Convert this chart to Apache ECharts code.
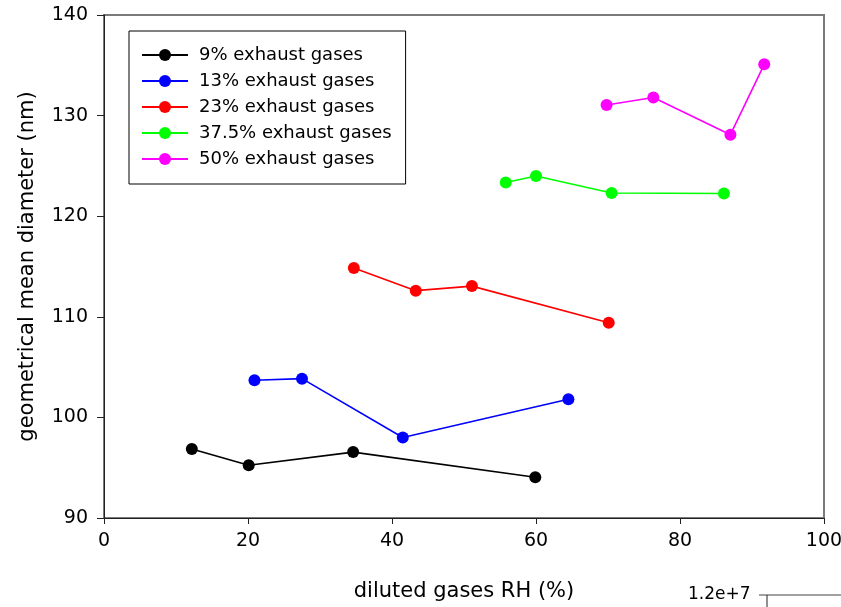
<!DOCTYPE html>
<html>
<head>
<meta charset="utf-8">
<script src="https://cdn.jsdelivr.net/npm/echarts@6/dist/echarts.min.js"></script>
<style>
html,body{margin:0;padding:0;background:#fff;overflow:hidden;}
#chart{width:841px;height:607px;}
</style>
</head>
<body>
<div id="chart"></div>
<script>
const seriesNames = ['9% exhaust gases','13% exhaust gases','23% exhaust gases','37.5% exhaust gases','50% exhaust gases'];
const seriesColors = ['#000000','#0000ff','#ff0000','#00ff00','#ff00ff'];

const rh9   = [12.2, 20.1, 34.6, 59.9];
const gmd9  = [96.85, 95.25, 96.55, 94.05];
const rh13  = [20.9, 27.5, 41.5, 64.5];
const gmd13 = [103.7, 103.85, 98.0, 101.8];
const rh23  = [34.7, 43.3, 51.1, 70.1];
const gmd23 = [114.85, 112.6, 113.05, 109.4];
const rh375  = [55.8, 60.0, 70.5, 86.1];
const gmd375 = [123.35, 124.0, 122.3, 122.25];
const rh50  = [69.8, 76.3, 87.0, 91.7];
const gmd50 = [131.05, 131.8, 128.1, 135.1];

const xTicks = [0, 20, 40, 60, 80, 100];
const yTicks = [90, 100, 110, 120, 130, 140];

const xs = [rh9, rh13, rh23, rh375, rh50];
const ys = [gmd9, gmd13, gmd23, gmd375, gmd50];

const FONT = 'DejaVu Sans';

const chart = echarts.init(document.getElementById('chart'), null, {renderer:'canvas', width: 841, height: 607});
const series = seriesNames.map((name, i) => ({
  name: name,
  type: 'line',
  data: xs[i].map((x, j) => [x, ys[i][j]]),
  symbol: 'circle',
  symbolSize: 12,
  showSymbol: true,
  lineStyle: {color: seriesColors[i], width: 1.6},
  itemStyle: {color: seriesColors[i]},
  emphasis: {disabled: true},
  animation: false,
  z: 3
}));

chart.setOption({
  backgroundColor: '#ffffff',
  animation: false,
  grid: {left: 104, right: 17, top: 15, bottom: 89, containLabel: false, outerBoundsMode: 'none', show: true, borderColor: '#7a7a7a', borderWidth: 2, backgroundColor: 'transparent'},
  xAxis: {
    type: 'value', min: xTicks[0], max: xTicks[xTicks.length-1], interval: 20,
    name: 'diluted gases RH (%)', nameLocation: 'middle', nameGap: 63,
    nameTextStyle: {fontFamily: FONT, fontSize: 21, color: '#000'},
    axisLine: {show: true, onZero: false, lineStyle: {color: '#222', width: 1}},
    axisTick: {show: true, inside: false, length: 6, lineStyle: {color: '#222'}},
    axisLabel: {fontFamily: FONT, fontSize: 19, color: '#000', margin: 14},
    splitLine: {show: false}
  },
  yAxis: {
    type: 'value', min: yTicks[0], max: yTicks[yTicks.length-1], interval: 10,
    name: 'geometrical mean diameter (nm)', nameLocation: 'middle', nameGap: 66,
    nameTextStyle: {fontFamily: FONT, fontSize: 21, color: '#000'},
    axisLine: {show: true, onZero: false, lineStyle: {color: '#222', width: 1}},
    axisTick: {show: true, inside: false, length: 7, lineStyle: {color: '#222'}},
    axisLabel: {fontFamily: FONT, fontSize: 19, color: '#000', margin: 16},
    splitLine: {show: false}
  },
  legend: {
    orient: 'vertical', left: 129, top: 31,
    data: seriesNames,
    itemWidth: 46, itemHeight: 15, itemGap: 6,
    padding: [14, 14, 15, 12],
    borderColor: '#000', borderWidth: 1,
    backgroundColor: '#fff',
    selectedMode: false,
    textStyle: {fontFamily: FONT, fontSize: 18, color: '#000', lineHeight: 20, padding: [0,0,0,6]}
  },
  graphic: [
    {type: 'text', left: 688, top: 586, style: {text: '1.2e+7', font: '17px "DejaVu Sans"', fill: '#000'}},
    {type: 'line', shape: {x1: 759, y1: 595, x2: 841, y2: 595}, style: {stroke: '#444', lineWidth: 1}},
    {type: 'line', shape: {x1: 767, y1: 595, x2: 767, y2: 607}, style: {stroke: '#222', lineWidth: 1}}
  ],
  series: series
});
</script>
</body>
</html>
